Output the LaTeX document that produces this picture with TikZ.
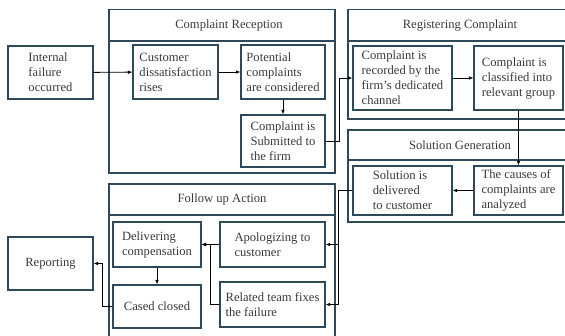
\documentclass[tikz,border=0pt]{standalone}
\usepackage{fontspec}
\setmainfont{Liberation Serif}
\usetikzlibrary{positioning, arrows.meta}
\definecolor{boxline}{HTML}{2E4A5A}
\definecolor{boxtext}{HTML}{3A3A3A}

\begin{document}
\begin{tikzpicture}[
        x=1pt, y=-1pt,
        box/.style={rectangle, draw=boxline, line width=1.1pt, fill=white, text=boxtext, align=left, inner sep=2pt, font=\fontsize{12.6}{15}\selectfont},
        group/.style={draw=boxline, line width=1.1pt},
        title/.style={text=boxtext, font=\fontsize{12.6}{15}\selectfont},
        arrow/.style={-{Latex[length=4.5pt, width=3.6pt]}, line width=0.9pt, black}
      ]
        \clip (0,0) rectangle (565,336);

        % Stages
        \draw[group] (109,9.5) rectangle (335,173);
        \draw[group] (109,41) -- (335,41);
        \node[title] (receptT) at (229,25) {Complaint Reception};

        \draw[group] (348,9.5) rectangle (572,119);
        \draw[group] (348,41) -- (572,41);
        \node[title] (registT) at (460,25) {Registering Complaint};

        \draw[group] (348,130) rectangle (572,222);
        \draw[group] (348,160) -- (572,160);
        \node[title] (solT) at (460,145) {Solution Generation};

        \draw[group] (109,184) rectangle (335,345);
        \draw[group] (109,215) -- (335,215);
        \node[title] (followT) at (222,199.5) {Follow up Action};

        % Steps
        \node[box, minimum width=85, minimum height=53] (fail) at (50.5,72.5) {Internal\\failure\\occurred};
        \node[box, minimum width=85, minimum height=54] (cust) at (175.5,72) {Customer\\dissatisfaction\\rises};
        \node[box, minimum width=84, minimum height=54] (pot) at (283,72) {Potential\\complaints\\are considered};
        \node[box, minimum width=84, minimum height=52] (sub) at (283,141) {Complaint is\\Submitted to\\the firm};

        \node[box, minimum width=99, minimum height=64] (rec) at (402.5,78) {Complaint is\\recorded by the\\firm's dedicated\\channel};
        \node[box, minimum width=89, minimum height=64] (cls) at (518.5,78) {Complaint is\\classified into\\relevant group};

        \node[box, minimum width=89, minimum height=49] (cau) at (518.5,190.5) {The causes of\\complaints are\\analyzed};
        \node[box, minimum width=99, minimum height=49] (dlv) at (402.5,190.5) {Solution is\\delivered\\to customer};

        \node[box, minimum width=105, minimum height=45] (apo) at (272.5,244.5) {Apologizing to\\customer};
        \node[box, minimum width=105, minimum height=45] (rel) at (272.5,304.5) {Related team fixes\\the failure};
        \node[box, minimum width=88, minimum height=45] (comp) at (157,244.5) {Delivering\\compensation};
        \node[box, minimum width=88, minimum height=43] (clo) at (157,306.5) {Cased closed};

        \node[box, minimum width=85, minimum height=53] (rep) at (50.5,263.5) {Reporting};

        % Arrows
        \draw[arrow] (fail) -- (cust);
        \draw[arrow] (cust) -- (pot);
        \draw[arrow] (pot) -- (sub);
        \draw[arrow] (sub.east) -- ++(14,0) |- (rec.west);
        \draw[arrow] (rec) -- (cls);
        \draw[arrow] (cls) -- (cau);
        \draw[arrow] (cau) -- (dlv);
        \draw[arrow] (dlv.west) -- ++(-14,0) |- (apo.east);
        \draw[arrow] (dlv.west) -- ++(-14,0) |- (rel.east);
        \draw[arrow] (apo) -- (comp);
        \draw[arrow] (rel.west) -- ++(-9,0) |- (comp.east);
        \draw[arrow] (comp) -- (clo);
        \draw[arrow] (clo.west) -- ++(-10,0) |- (rep.east);

      \end{tikzpicture}
\end{document}
